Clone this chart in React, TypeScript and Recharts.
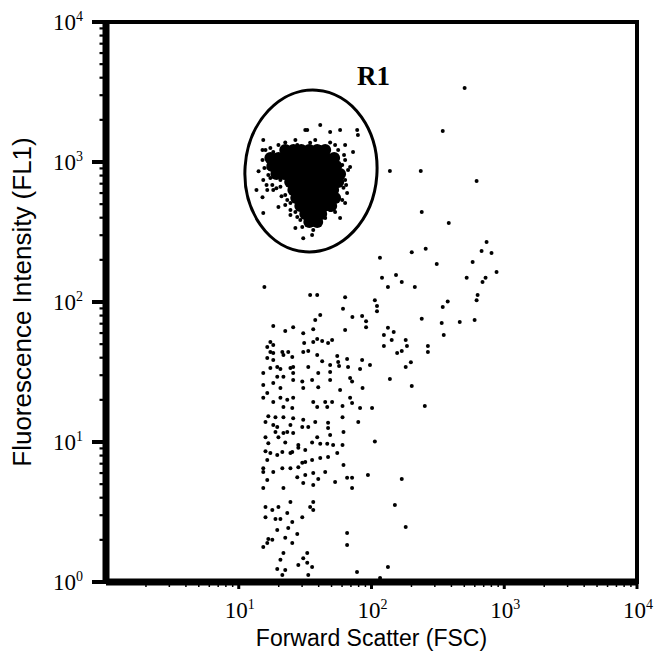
import React from 'react';
import { ScatterChart, Scatter, XAxis, YAxis, ReferenceArea, ReferenceDot, Label } from 'recharts';

// ---- axis ticks ----
const X_MAJOR = [10, 100, 1000, 10000];
const Y_MAJOR = [1, 10, 100, 1000, 10000];
const DECADES = [1, 10, 100, 1000];
const MINOR_STEPS = [2, 3, 4, 5, 6, 7, 8, 9];

const X_TITLE = 'Forward Scatter (FSC)';
const Y_TITLE = 'Fluorescence Intensity (FL1)';
const GATE_NAME = 'R1';

// gate R1 centre (FSC, FL1)
const GATE_CENTER = { fsc: 35, fl1: 863 };

// ---- dense core of the gated population: FL1 rows and FSC values in each row ----
const CORE_FL1 = [1218, 1068, 936, 821, 720, 631, 553, 485, 425, 373];
const CORE_FSC_ROWS = [
  [22.4, 25.8, 29.6, 34.0, 39.0, 44.8],
  [17.3, 19.9, 22.8, 26.2, 30.1, 34.5, 39.7, 45.5, 52.3],
  [17.9, 20.6, 23.6, 27.1, 31.1, 35.7, 41.0, 47.1, 54.2],
  [19.2, 22.0, 25.3, 29.1, 33.4, 38.3, 44.0, 50.5, 58.0],
  [24.4, 28.1, 32.2, 37.0, 42.5, 48.8, 56.1],
  [25.8, 29.6, 34.0, 39.0, 44.8, 51.4],
  [27.1, 31.1, 35.7, 41.0, 47.1, 53.2],
  [29.1, 33.4, 38.3, 44.0, 49.7],
  [31.7, 36.4, 41.8],
  [34.0, 39.0],
];

// ---- scattered events inside / around the gate: [FSC, FL1] ----
const GATE_SPARSE: [number, number][] = [
  [31.7, 1693], [41.1, 1838], [48.8, 1640], [58.0, 1693], [78, 1693], [79, 1560],
  [15.3, 1436], [22.4, 1380], [27.6, 1323], [34.5, 1370], [41.1, 1280], [63.3, 1323],
  [72.6, 1180], [63.3, 1033], [69, 920], [63.3, 744], [66.6, 877], [15.3, 744],
  [16.4, 631], [15.1, 560], [18.2, 631], [20.6, 665], [19.9, 477], [22.4, 493],
  [24.5, 510], [15.3, 432], [26.7, 440], [27.6, 405], [30.1, 343], [26.7, 338],
  [36.4, 327], [35.7, 301], [30.6, 285], [58, 398], [63.3, 510], [65.5, 600],
  [17.3, 1033], [16.7, 905], [18.2, 1180], [19.5, 877], [20.6, 744], [32.8, 1693],
  [23.2, 1280], [15.9, 1218], [17.3, 1260], [18.9, 1122], [15.1, 1033], [16.7, 807],
  [18.5, 952], [20.2, 1033], [21.7, 1218], [17.9, 685], [16.2, 685], [53.2, 1323],
  [56.1, 1218], [60.2, 952], [61.5, 655], [48.8, 454], [41.1, 373], [34.5, 373],
  [24.5, 418], [22.4, 581], [21.3, 877],
  [15.1, 1218], [16.7, 1080], [15.6, 905], [17.3, 770], [19.2, 650], [21.0, 570],
  [23.2, 535], [24.5, 454], [29.1, 385], [44.8, 398], [53.2, 440], [60.2, 535],
  [64.4, 685], [62.1, 1122], [48.8, 1380], [37.7, 1436], [26.7, 1436], [19.9, 1323],
  [14.1, 860], [13.6, 631],
];

// ---- events scattered to the upper right: [FSC, FL1] ----
const UPPER_SCATTER: [number, number][] = [
  [503, 3380], [344, 1665], [137.6, 862], [235, 862], [619, 732], [239, 440],
  [382, 366], [736, 268], [675, 231], [802, 224], [201, 227], [256, 240],
  [115.8, 207], [310, 187], [578, 193], [120, 149], [153, 156], [169, 139],
  [133, 128], [212, 128], [521, 149], [723, 149], [686, 139], [875, 164],
  [375, 101], [619, 103], [630, 112], [344, 92], [239, 76], [338, 70.8],
  [462, 72], [598, 74.4], [350, 58.1], [133, 65.5], [124, 58.1], [142, 53.5],
  [181, 53.5], [124, 48.5], [185, 48.5], [266, 48.5], [169, 44.7], [266, 44],
  [156, 43.2], [198, 37.1], [181, 34.3], [137.6, 28.2], [147, 61], [201, 25.1],
];

// ---- low-fluorescence cloud: [FSC, FL1] ----
const LOW_CLOUD: [number, number][] = [
  [15.6, 128], [34.5, 112], [39, 112], [63.3, 108], [106, 103], [110, 93.5],
  [110, 86], [61, 89.5], [41.1, 80.7], [37.7, 74.4], [71.8, 78], [85, 79.5],
  [91, 73], [91, 66], [18.2, 67.3], [25.7, 66], [22.4, 62], [63.3, 63.1],
  [36.4, 64], [30.6, 59.8], [17.3, 51.8], [18.2, 49.3], [36.4, 51.8], [42.5, 52.6],
  [47.1, 50.9], [50.5, 53.5], [39, 54.4], [31.1, 50.9], [16.4, 47.7], [17.3, 44],
  [18.2, 43.2], [21.3, 44], [23.6, 44], [30.6, 44], [33.4, 44.7], [21.7, 41.8],
  [25.3, 40.4], [39, 41.8], [42.5, 37.8], [55.2, 41.1], [56.1, 37.2], [65.5, 39.1],
  [85, 38.5], [16.4, 39.8], [18.2, 38.5], [19.5, 34.4], [17.3, 33.8], [20.6, 33.2],
  [24.5, 33.8], [25.7, 34.4], [33.4, 34.4], [48.8, 35.5], [57, 34.9], [66.6, 34.4],
  [82, 33.2], [97.4, 35.5], [15.3, 31.1], [19.5, 29.2], [21.7, 29.2], [25.7, 31.1],
  [39.7, 31.1], [48.8, 31.6], [48.8, 27.7], [69, 28.6], [71.4, 27], [15.3, 25.5],
  [18.2, 26.4], [20.6, 24.3], [25.7, 27.7], [30.1, 27], [30.6, 24.3], [35.7, 27.7],
  [39.7, 24.6], [58, 23.5], [85.6, 24.3], [16.4, 22.4], [15.3, 20.7], [18.2, 19.3],
  [20.6, 20.7], [23.2, 20], [25.7, 20.7], [21.7, 17.8], [25.3, 17.5], [36.4, 19.3],
  [39, 17.8], [44.8, 19.3], [50.5, 19.3], [46.4, 17.8], [60.5, 18.1], [69, 20.7],
  [71.4, 19], [82, 17.5], [101, 17.5], [252, 18.1], [16.7, 15.3], [18.9, 15],
  [21.7, 15], [25.7, 14.8], [30.6, 14.4], [37.7, 13.9], [47.1, 13.7], [60.5, 15],
  [79.5, 13.9], [15.9, 13.9], [18.2, 13.2], [19.5, 12.8], [24.5, 13.2], [30.1, 12.8],
  [33.4, 12.8], [47.1, 12.6], [61.5, 11.8], [18.9, 11.8], [21.7, 11.6], [23.2, 11.8],
  [25.7, 11.6], [15.9, 10.8], [19.9, 10.8], [39, 10.8], [48.8, 11.2], [16.7, 9.8],
  [22.4, 9.9], [28.1, 9.5], [35.7, 9.9], [41.1, 9.7], [46.4, 9.7], [51.4, 9.5],
  [60.5, 9.5], [106, 10.1], [15.9, 8.6], [17.3, 8.35], [21.3, 8.5], [25.3, 8.5],
  [28.1, 9.1], [31.7, 8.77], [55.2, 8.35], [16.4, 7.44], [19.5, 8.07], [24.5, 8.35],
  [30.1, 7.1], [31.7, 7.2], [35.7, 7.44], [41.1, 7.7], [47.1, 7.8], [61.5, 6.85],
  [15.3, 6.5], [15.3, 6.1], [18.2, 6.1], [21.3, 6.5], [24.5, 6.5], [28.1, 6.6],
  [16.4, 5.35], [27.6, 5.6], [31.7, 5.81], [36.4, 6], [39.7, 5.45], [44.8, 6.1],
  [53.2, 5.18], [65.5, 5.55], [71.4, 5.55], [94, 5.81], [169, 5.45], [15.3, 4.7],
  [21.7, 4.7], [30.6, 5.1], [36.4, 4.93], [71.4, 4.7], [15.9, 3.43], [17.9, 3.27],
  [19.9, 3.43], [24.5, 3.73], [34.5, 3.43], [36.4, 3.73], [36.4, 3.27], [23.2, 3.11],
  [15.9, 2.9], [18.9, 2.82], [20.6, 2.82], [25.3, 2.68], [30.1, 2.9], [23.6, 2.43],
  [19.5, 2.35], [150, 3.55], [16.7, 2.03], [17.9, 2.0], [22.4, 2.07], [27.6, 2.2],
  [15.3, 1.78], [16.4, 1.9], [25.3, 1.9], [65.5, 2.24], [65.5, 1.84], [181, 2.47],
  [21.7, 1.61], [32.8, 1.61], [20.6, 1.44], [30.6, 1.48], [28.1, 1.32], [32.8, 1.37],
  [19.5, 1.24], [22.4, 1.22], [35.7, 1.28], [21.3, 1.12], [33.4, 1.12], [77.8, 1.18],
  [133, 1.28], [116, 1.07],
];

// ---- tables built from the arrays above ----
const MINOR_TICKS = DECADES.flatMap((d) => MINOR_STEPS.map((m) => d * m));
const X_TICKS = [...X_MAJOR, ...MINOR_TICKS.filter((v) => v > 1)].sort((a, b) => a - b);
const Y_TICKS = [...Y_MAJOR, ...MINOR_TICKS].sort((a, b) => a - b);

const coreData = CORE_FL1.flatMap((fl1, i) => CORE_FSC_ROWS[i].map((fsc) => ({ fsc, fl1 })));
const toPts = (arr: [number, number][]) => arr.map(([fsc, fl1]) => ({ fsc, fl1 }));
const sparseData = [...toPts(GATE_SPARSE), ...toPts(UPPER_SCATTER), ...toPts(LOW_CLOUD)];

const SERIF = '"Liberation Serif", "Times New Roman", Times, serif';
const SANS = '"Liberation Sans", Arial, Helvetica, sans-serif';

const isMajor = (v: number) => {
  const e = Math.round(Math.log10(v));
  return Math.abs(Math.pow(10, e) - v) < 1e-9;
};

const YTick = (props: any) => {
  const { x, y, payload } = props;
  const v = payload.value;
  const major = isMajor(v);
  const exp = Math.round(Math.log10(v));
  return (
    <g>
      <line x1={x - (major ? 14 : 6.5)} x2={x} y1={y} y2={y} stroke="#000" strokeWidth={major ? 4 : 2.2} />
      {major && (
        <text x={x - 23} y={y + 8} textAnchor="end" fontFamily={SERIF} fontSize={23} fill="#000">
          10<tspan dy={-9} fontSize={14}>{exp}</tspan>
        </text>
      )}
    </g>
  );
};

const XTick = (props: any) => {
  const { x, y, payload } = props;
  const v = payload.value;
  const major = isMajor(v);
  const exp = Math.round(Math.log10(v));
  return (
    <g>
      <line x1={x} x2={x} y1={y} y2={y + (major ? 7 : 5)} stroke="#000" strokeWidth={major ? 3 : 1.5} />
      {major && (
        <text x={x + 1} y={y + 36} textAnchor="middle" fontFamily={SERIF} fontSize={23} fill="#000">
          10<tspan dy={-9} fontSize={14}>{exp}</tspan>
        </text>
      )}
    </g>
  );
};

const SparseDot = (p: any) => <circle cx={p.cx} cy={p.cy} r={2} fill="#000" />;
const CoreDot = (p: any) => <circle cx={p.cx} cy={p.cy} r={6} fill="#000" />;

const GateShape = (p: any) => (
  <g>
    <ellipse
      cx={p.cx}
      cy={p.cy}
      rx={66}
      ry={81}
      fill="none"
      stroke="#000"
      strokeWidth={3}
      transform={`rotate(4 ${p.cx} ${p.cy})`}
    />
    <text x={p.cx + 46} y={p.cy - 86} fontFamily={SERIF} fontWeight="bold" fontSize={27} fill="#000">
      {GATE_NAME}
    </text>
  </g>
);

export default function App() {
  return (
    <div style={{ position: 'absolute', left: 0, top: 0, width: 654, height: 652 }}>
      <ScatterChart width={654} height={652} margin={{ top: 22, right: 17, bottom: 0, left: 0 }}>
        <XAxis
          dataKey="fsc"
          type="number"
          scale="log"
          domain={[1, 10000]}
          allowDataOverflow
          ticks={X_TICKS}
          interval={0}
          height={70}
          tickSize={0}
          tickMargin={0}
          tickLine={false}
          axisLine={{ stroke: '#000', strokeWidth: 7 }}
          tick={<XTick />}
        >
          <Label
            content={(lp: any) => {
              const vb = lp.viewBox;
              return (
                <text
                  x={vb.x + vb.width / 2}
                  y={vb.y + 64}
                  textAnchor="middle"
                  fontFamily={SANS}
                  fontSize={23}
                  fill="#000"
                >
                  {X_TITLE}
                </text>
              );
            }}
          />
        </XAxis>
        <YAxis
          dataKey="fl1"
          type="number"
          scale="log"
          domain={[1, 10000]}
          allowDataOverflow
          ticks={Y_TICKS}
          interval={0}
          width={106}
          tickSize={0}
          tickMargin={0}
          tickLine={false}
          axisLine={{ stroke: '#000', strokeWidth: 7 }}
          tick={<YTick />}
        >
          <Label
            content={(lp: any) => {
              const vb = lp.viewBox;
              const cx = vb.x + 22;
              const cy = vb.y + vb.height / 2;
              return (
                <text
                  x={cx}
                  y={cy}
                  transform={`rotate(-90 ${cx} ${cy})`}
                  textAnchor="middle"
                  dominantBaseline="central"
                  fontFamily={SANS}
                  fontSize={26}
                  fill="#000"
                >
                  {Y_TITLE}
                </text>
              );
            }}
          />
        </YAxis>
        <ReferenceArea
          x1={1}
          x2={10000}
          y1={1}
          y2={10000}
          fill="none"
          fillOpacity={0}
          stroke="#000"
          strokeWidth={4}
          ifOverflow="visible"
        />
        <Scatter data={sparseData} shape={SparseDot} isAnimationActive={false} />
        <Scatter data={coreData} shape={CoreDot} isAnimationActive={false} />
        <ReferenceDot x={GATE_CENTER.fsc} y={GATE_CENTER.fl1} r={0} shape={GateShape} ifOverflow="visible" />
      </ScatterChart>
    </div>
  );
}
